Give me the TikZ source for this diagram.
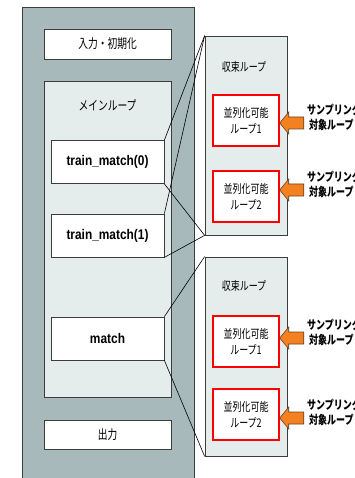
\documentclass[tikz,border=0pt]{standalone}
\usepackage{fontspec}
\setmainfont{Liberation Sans}[FakeStretch=0.85]
\newfontfamily\jpfont{Noto Sans CJK JP}[FakeStretch=0.75]

\definecolor{outergray}{RGB}{168,185,188}
\definecolor{loopfill}{RGB}{228,236,236}
\definecolor{edgegray}{RGB}{60,60,60}
\definecolor{arroworange}{RGB}{245,128,32}
\definecolor{arrowedge}{RGB}{95,70,45}

\tikzset{every picture/.style={line width=0.75pt}}
\tikzset{
  whitebox/.style={draw=edgegray, fill=white, inner sep=0pt},
  stagebox/.style={whitebox, minimum width=127pt, minimum height=30pt, font=\jpfont\fontsize{13}{15}\selectfont},
  funcbox/.style={whitebox, minimum width=113pt, minimum height=43pt, font=\bfseries\fontsize{14}{16}\selectfont},
  loopbox/.style={draw=edgegray, fill=loopfill, inner sep=0pt},
  convbox/.style={loopbox, minimum width=82pt, minimum height=199pt},
  parbox/.style={draw=red, line width=1.5pt, fill=white, inner sep=0pt, minimum width=66pt, minimum height=51pt, align=center, font=\jpfont\fontsize{12}{16}\selectfont},
  looplabel/.style={inner sep=0pt, font=\jpfont\fontsize{12}{14}\selectfont},
  samplearrow/.style={draw=arrowedge, fill=arroworange, line width=0.6pt},
  samplelabel/.style={anchor=west, inner sep=0pt, align=left, font=\jpfont\bfseries\fontsize{12}{15}\selectfont},
  zoomline/.style={draw=black, line width=0.6pt}
}

\begin{document}
\begin{tikzpicture}[x=1pt,y=1pt,yscale=-1,xscale=1]
\useasboundingbox (0,0) rectangle (355,478);
\clip (0,0) rectangle (355,478);

% program flow
\draw [fill=outergray, draw=edgegray] (22,7) rectangle (194,492);
\node [stagebox] (init) at (107.5,44) {入力・初期化};
\node [loopbox, minimum width=127pt, minimum height=316pt] (mainloop) at (107.5,239) {};
\node [looplabel, font=\jpfont\fontsize{13}{15}\selectfont] (mainlabel) at (107.5,105) {メインループ};
\node [funcbox] (tm0) at (107.5,162) {train\_match(0)};
\node [funcbox] (tm1) at (107.5,235.5) {train\_match(1)};
\node [funcbox] (match) at (107.5,338.5) {match};
\node [stagebox, minimum height=29pt] (output) at (107.5,434.5) {出力};

% convergence loops
\node [convbox] (conv1) at (246,135.5) {};
\node [convbox] (conv2) at (246,356.5) {};
\node [looplabel] (convlabel1) at (244,67) {収束ループ};
\node [looplabel] (convlabel2) at (244,286) {収束ループ};
\node [parbox] (par11) at (246,120.5) {並列化可能\\ループ1};
\node [parbox] (par12) at (246,196.5) {並列化可能\\ループ2};
\node [parbox] (par21) at (246,341.5) {並列化可能\\ループ1};
\node [parbox] (par22) at (246,414.5) {並列化可能\\ループ2};

\draw [zoomline] (tm0.north east) -- (conv1.north west);
\draw [zoomline] (tm0.south east) -- (conv1.south west);
\draw [zoomline] (tm1.north east) -- (conv1.north west);
\draw [zoomline] (tm1.south east) -- (conv1.south west);
\draw [zoomline] (match.north east) -- (conv2.north west);
\draw [zoomline] (match.south east) -- (conv2.south west);

% sampling targets
\foreach \p/\ay in {par11/123, par12/190, par21/338, par22/418} {
  \coordinate (tip-\p) at (\p.east |- 0,\ay);
  \draw [samplearrow] (tip-\p) -- ++(9,-11) -- ++(0,5) -- ++(15,0) -- ++(0,12) -- ++(-15,0) -- ++(0,5) -- cycle;
  \node [samplelabel] (lab-\p) at ([xshift=27pt,yshift=-6pt]tip-\p) {サンプリング\\\hspace*{2pt}対象ループ};
}

\end{tikzpicture}
\end{document}
